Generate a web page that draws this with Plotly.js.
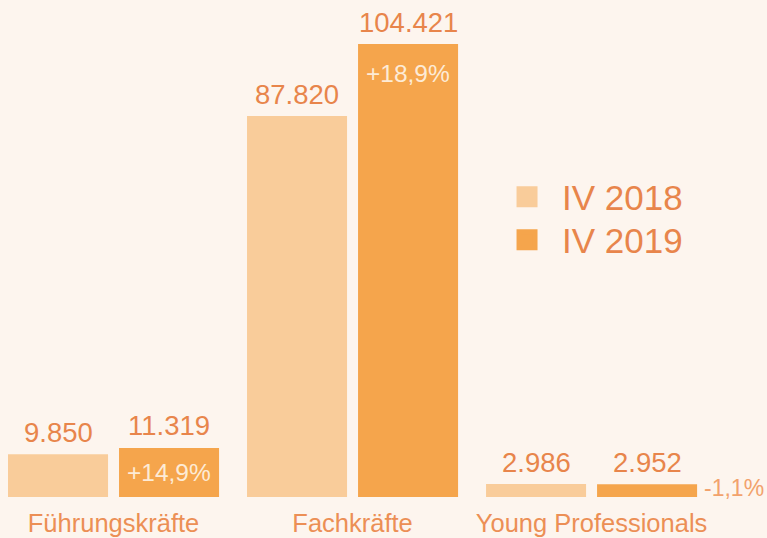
<!DOCTYPE html>
<html>
<head>
<meta charset="utf-8">
<script src="https://cdn.plot.ly/plotly-3.0.1.min.js"></script>
<style>html,body{margin:0;padding:0;background:#fdf5ee;}</style>
</head>
<body>
<div id="chart" style="width:767px;height:538px;"></div>
<script>
const categories = ["Führungskräfte", "Fachkräfte", "Young Professionals"];
const seriesNames = ["IV 2018", "IV 2019"];
const values2018 = [9850, 87820, 2986];
const values2019 = [11319, 104421, 2952];

const colLight = "#f9cc9a";
const colDark = "#f5a54c";
const txtCol = "#e8854b";
const FONT = "Liberation Sans, Arial, sans-serif";

function fmtDE(n) { return String(n).replace(/\B(?=(\d{3})+(?!\d))/g, "."); }
function fmtPct(a, b) {
  const p = (b / a - 1) * 100;
  return (p >= 0 ? "+" : "-") + Math.abs(p).toFixed(1).replace(".", ",") + "%";
}

const traces = [
  {type: "bar", x: categories, y: values2018, name: seriesNames[0], marker: {color: colLight}, showlegend: false, hoverinfo: "skip"},
  {type: "bar", x: categories, y: values2019, name: seriesNames[1], marker: {color: colDark}, showlegend: false, hoverinfo: "skip"},
  {type: "scatter", mode: "markers", x: [null], y: [null], name: seriesNames[0], legend: "legend",
    marker: {symbol: "square", size: 16, color: colLight, line: {color: colLight, width: 5}}, showlegend: true, hoverinfo: "skip"},
  {type: "scatter", mode: "markers", x: [null], y: [null], name: seriesNames[1], legend: "legend2",
    marker: {symbol: "square", size: 16, color: colDark, line: {color: colDark, width: 5}}, showlegend: true, hoverinfo: "skip"}
];

const HALF = 55.5;
const annotations = [];
[values2018, values2019].forEach((vals, si) => {
  vals.forEach((v, i) => {
    annotations.push({
      x: categories[i], y: v, xref: "x", yref: "y",
      xshift: si === 0 ? -HALF : HALF, yshift: 22,
      yanchor: "middle", xanchor: "center",
      text: fmtDE(v), showarrow: false,
      font: {family: FONT, size: 27.5, color: txtCol}
    });
  });
});
const yMax = 114564;
const pxPerUnit = 497 / yMax;
values2019.forEach((v, i) => {
  const txt = fmtPct(values2018[i], v);
  const hpx = v * pxPerUnit;
  if (hpx > 100) {
    annotations.push({x: categories[i], y: v, xshift: HALF, yshift: -29, yanchor: "middle", xanchor: "center",
      text: txt, showarrow: false, font: {family: FONT, size: 24.5, color: "#fdebd6"}});
  } else if (hpx > 30) {
    annotations.push({x: categories[i], y: v / 2, xshift: HALF, yanchor: "middle", xanchor: "center",
      text: txt, showarrow: false, font: {family: FONT, size: 24.5, color: "#fdebd6"}});
  } else {
    annotations.push({x: categories[i], y: v / 2, xshift: HALF + 50 + 5, yshift: 3, yanchor: "middle", xanchor: "left",
      text: txt, showarrow: false, font: {family: FONT, size: 23, color: "#f2a26c"}});
  }
});

const legendBase = {x: 0.6415, xanchor: "left", yanchor: "middle", bgcolor: "rgba(0,0,0,0)",
  font: {family: FONT, size: 35, color: txtCol}, itemwidth: 60};

const layout = {
  width: 767, height: 538,
  margin: {l: 0, r: 0, t: 0, b: 41, pad: 0},
  paper_bgcolor: "#fdf5ee", plot_bgcolor: "#fdf5ee",
  barmode: "group", bargap: 0.071, bargroupgap: 0.099,
  xaxis: {type: "category", range: [-0.475, 2.734], showgrid: false, zeroline: false, showline: false, ticks: "",
    tickfont: {family: FONT, size: 25.5, color: "#ec8f55"}, ticklabelstandoff: 8, fixedrange: true},
  yaxis: {range: [0, yMax], visible: false, showgrid: false, zeroline: false, fixedrange: true},
  showlegend: true,
  legend: Object.assign({}, legendBase, {y: 0.6036}),
  legend2: Object.assign({}, legendBase, {y: 0.5171}),
  annotations: annotations,
  font: {family: FONT}
};

Plotly.newPlot("chart", traces, layout, {displayModeBar: false, staticPlot: true});
</script>
</body>
</html>
